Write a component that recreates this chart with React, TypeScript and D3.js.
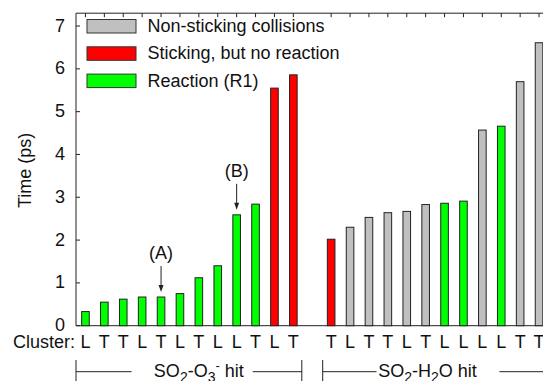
import React from "react";
import * as d3 from "d3";

const clusterLabels = ["L","T","T","L","T","L","T","L","L","T","L","T","","T","L","T","T","L","T","L","L","L","L","T","T"];
const times: (number | null)[] = [0.33,0.55,0.62,0.67,0.67,0.75,1.12,1.40,2.59,2.84,5.55,5.86,null,2.02,2.30,2.53,2.64,2.67,2.83,2.86,2.91,4.57,4.66,5.70,6.61];
const outcomes = ["R","R","R","R","R","R","R","R","R","R","S","S","","S","N","N","N","N","N","R","R","N","R","N","N"];
const legendKeys = ["N","S","R"];
const legendLabels = ["Non-sticking collisions","Sticking, but no reaction","Reaction (R1)"];
const yTicks = [0,1,2,3,4,5,6,7];
const annotations = [{ slot: 4, label: "(A)" }, { slot: 8, label: "(B)" }];

const colors: Record<string, string> = { N: "#c0c0c0", S: "#ff0000", R: "#00ff00" };

const W = 543, H = 381;
const left = 76, top = 13.2, bottom = 325.7;
const FONT = "'Liberation Sans', Arial, Helvetica, sans-serif";

export default function App() {
  const slots = times.map((_, i) => i);
  const x = d3.scalePoint<number>().domain(slots).range([left, 548.5]).padding(0.5);
  const step = x.step();
  const y = d3.scaleLinear().domain([0, 7.3]).range([bottom, top]);
  const bw = 7.6;
  const fs = 18;
  const ink = "#222";

  const bracketY = 371.7;
  const groups = [
    { x0: x(0)! - step / 2, x1: x(11)! + step / 2 - 1, gapL: x(0)! + 2.44 * step, gapR: x(0)! + 8.85 * step, tx: x(0)! + 6.0 * step, main: ["SO", "2", "-O", "3", "-", " hit"] },
    { x0: x(13)! - step / 2 + 1, x1: x(24)! + step / 2, gapL: x(0)! + 15.4 * step, gapR: x(0)! + 21.9 * step, tx: x(0)! + 18.1 * step, main: ["SO", "2", "-H", "2", "", "O hit"] },
  ];

  const renderLabel = (parts: string[]) => (
    <>
      <tspan>{parts[0]}</tspan>
      <tspan fontSize={14} dy={5}>{parts[1]}</tspan>
      <tspan dy={-5}>{parts[2]}</tspan>
      <tspan fontSize={14} dy={5}>{parts[3]}</tspan>
      {parts[4] ? <tspan fontSize={13} dy={-12}>{parts[4]}</tspan> : null}
      <tspan dy={parts[4] ? 7 : -5}>{parts[5]}</tspan>
    </>
  );

  return (
    <svg width={W} height={H} style={{ position: "absolute", left: 0, top: 0 }} fontFamily={FONT}>
      <rect x={0} y={0} width={W} height={H} fill="#fff" />
      {/* frame */}
      <line x1={left} x2={W + 10} y1={top} y2={top} stroke={ink} strokeWidth={1} />
      <line x1={left} x2={W + 10} y1={bottom} y2={bottom} stroke={ink} strokeWidth={1} />
      <line x1={left} x2={left} y1={top} y2={bottom} stroke={ink} strokeWidth={1} />
      {/* top ticks */}
      {slots.filter((i) => times[i] !== null).map((i) => (
        <line key={"tt" + i} x1={x(i)} x2={x(i)} y1={top} y2={top + 4} stroke={ink} strokeWidth={1} />
      ))}
      {/* y ticks */}
      {yTicks.map((t) => (
        <g key={"y" + t}>
          <line x1={left} x2={left + 4} y1={y(t)} y2={y(t)} stroke={ink} strokeWidth={1} />
          <text x={left - 11} y={y(t) - 1} dy="0.36em" textAnchor="end" fontSize={fs} fill="#111">{t}</text>
        </g>
      ))}
      <text transform={`translate(25,${(top + bottom) / 2 + 1}) rotate(-90)`} textAnchor="middle" dy="0.35em" fontSize={fs} fill="#111">Time (ps)</text>
      {/* bars */}
      {slots.filter((i) => times[i] !== null).map((i) => (
        <rect key={"b" + i} x={x(i)! - bw / 2} y={y(times[i] as number)} width={bw} height={bottom - y(times[i] as number)}
          fill={colors[outcomes[i]]} stroke={ink} strokeWidth={1} />
      ))}
      {/* annotations */}
      {annotations.map((a) => {
        const cx = x(a.slot)!;
        const tipY = y(times[a.slot] as number) - 5;
        const startY = tipY - 26;
        return (
          <g key={a.label}>
            <text x={cx} y={startY - 7} textAnchor="middle" fontSize={fs} fill="#111">{a.label}</text>
            <line x1={cx} x2={cx} y1={startY} y2={tipY - 6} stroke={ink} strokeWidth={1} />
            <path d={`M${cx - 2.5},${tipY - 7} L${cx + 2.5},${tipY - 7} L${cx},${tipY} Z`} fill={ink} />
          </g>
        );
      })}
      {/* legend */}
      {legendKeys.map((k, i) => (
        <g key={"lg" + k} transform={`translate(87,${19.5 + i * 27.3})`}>
          <rect x={0} y={0} width={49} height={13.5} fill={colors[k]} stroke="#333" strokeWidth={1} />
          <text x={60.5} y={12.5} fontSize={fs} fill="#111">{legendLabels[i]}</text>
        </g>
      ))}
      {/* cluster labels */}
      <text x={left - 1} y={348.3} textAnchor="end" fontSize={fs} fill="#111">Cluster:</text>
      {slots.map((i) => (
        <text key={"cl" + i} x={x(i)} y={348.3} textAnchor="middle" fontSize={fs} fill="#111">{clusterLabels[i]}</text>
      ))}
      {/* group brackets */}
      {groups.map((g, gi) => (
        <g key={"g" + gi}>
          <line x1={g.x0} x2={g.x0} y1={360} y2={H + 2} stroke={ink} strokeWidth={1} />
          <line x1={g.x1} x2={g.x1} y1={360} y2={H + 2} stroke={ink} strokeWidth={1} />
          <line x1={g.x0} x2={g.gapL} y1={bracketY} y2={bracketY} stroke={ink} strokeWidth={1} />
          <line x1={g.gapR} x2={g.x1} y1={bracketY} y2={bracketY} stroke={ink} strokeWidth={1} />
          <text x={g.tx} y={377} textAnchor="middle" fontSize={fs} fill="#111">{renderLabel(g.main)}</text>
        </g>
      ))}
    </svg>
  );
}
